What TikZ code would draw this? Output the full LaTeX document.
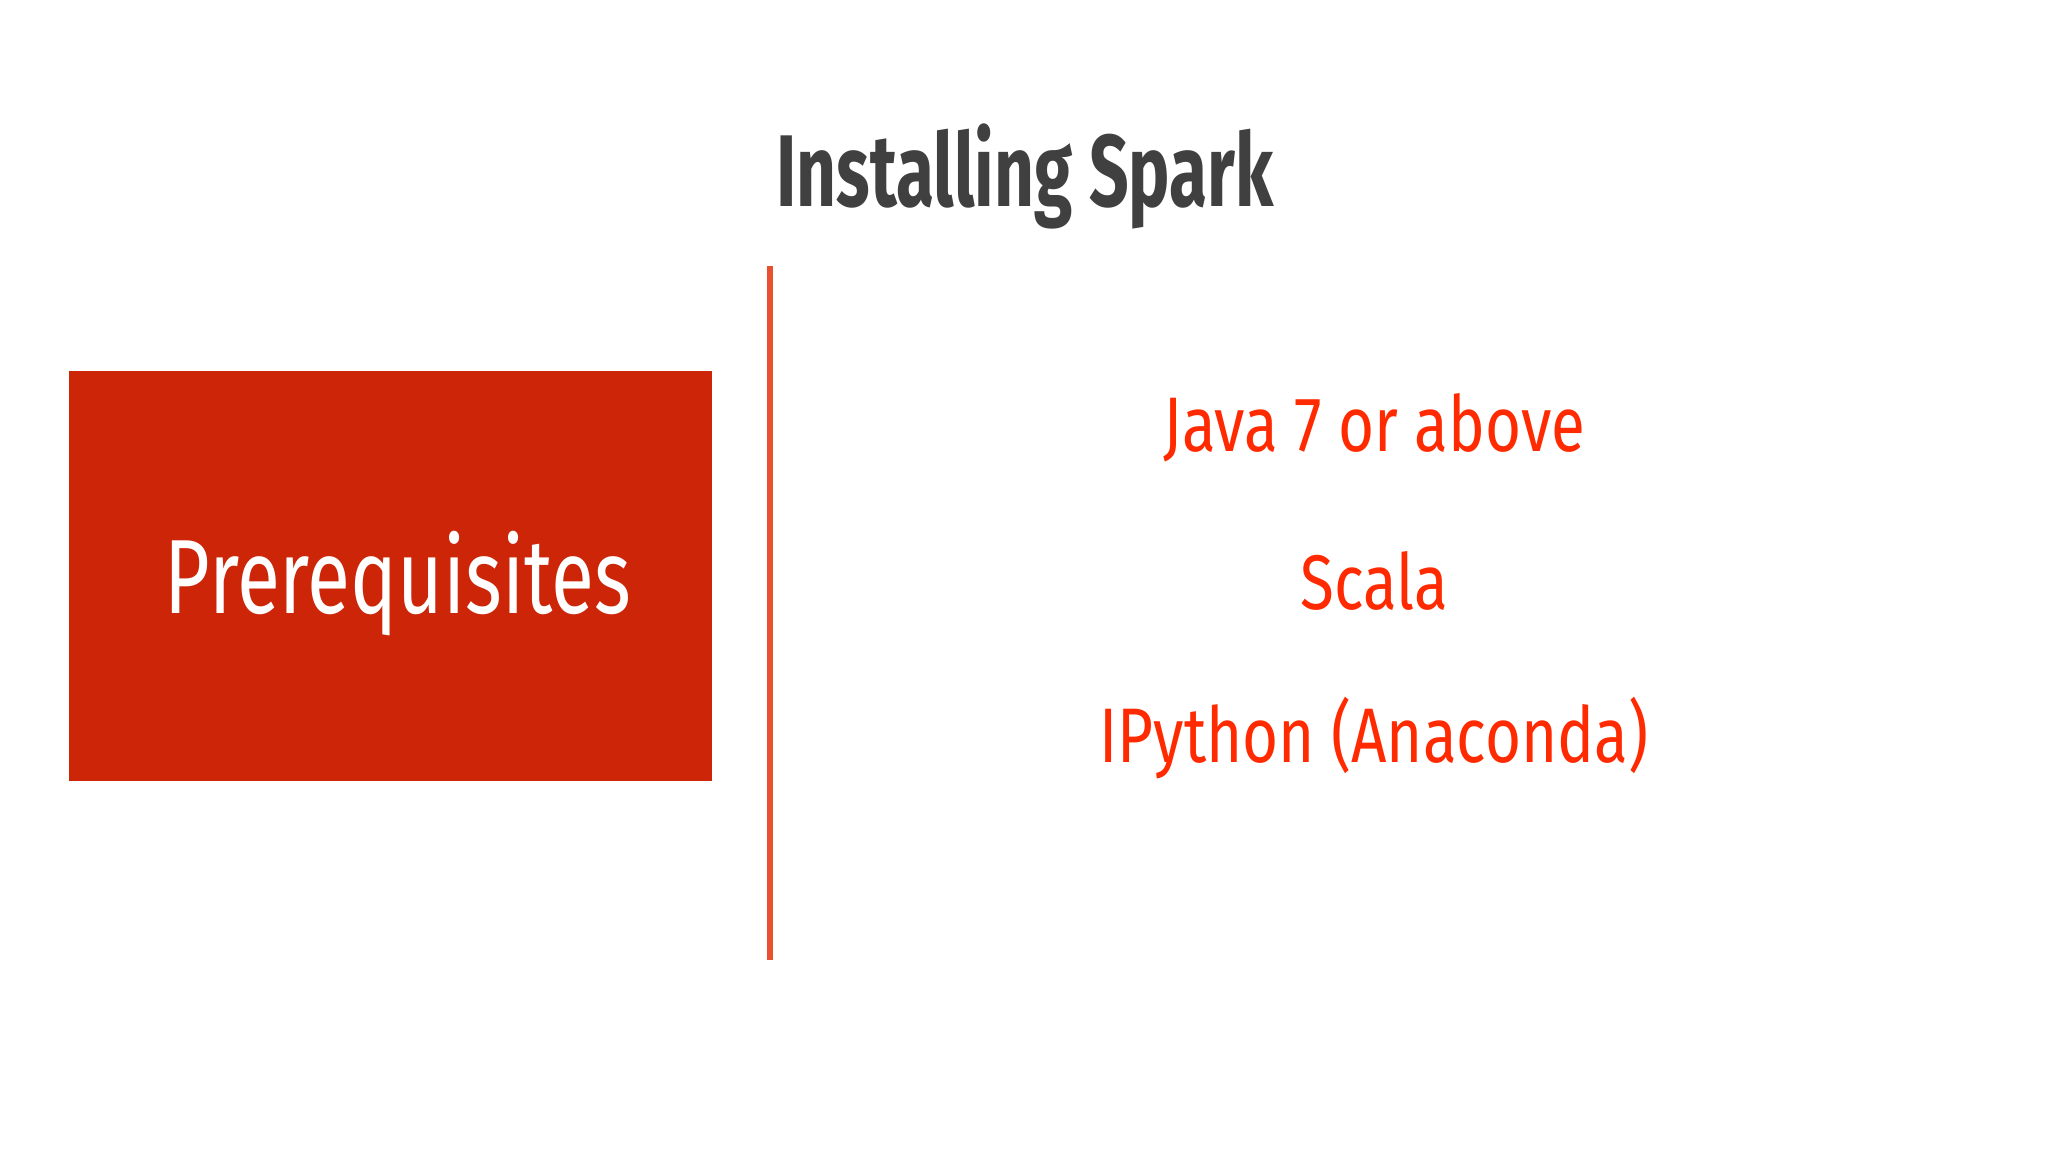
\documentclass[tikz,border=0pt]{standalone}
\usepackage{fontspec}
\usepackage{graphicx}
\setmainfont{Fira Sans}
\definecolor{boxred}{HTML}{CC2508}
\definecolor{linered}{HTML}{E8502F}
\definecolor{itemred}{HTML}{FF2A00}
\definecolor{titlegray}{HTML}{404040}
\tikzset{item/.style={text=itemred,font=\fontsize{22}{26}\selectfont}}
\begin{document}
\begin{tikzpicture}[x=0.01cm,y=-0.01cm]
\useasboundingbox[fill=white] (0,0) rectangle (2048,1152);
\node[text=titlegray,font=\fontsize{29}{36}\selectfont\bfseries] (title) at (1025,176) {\scalebox{0.68}[1]{Installing Spark}};
\node[fill=boxred,minimum width=6.43cm,minimum height=4.10cm,inner sep=0pt] (box) at (390.5,576) {};
\node[text=white,font=\fontsize{30}{36}\selectfont] (pre) at (398,584) {\scalebox{0.745}[1]{Prerequisites}};
\coordinate (ltop) at (770,266);
\coordinate (lbot) at (770,960);
\draw[linered,line width=1.5pt] (ltop) -- (lbot);
\node[item] (java) at (1374,428) {\scalebox{0.8}[1]{Java 7 or above}};
\node[item] (scala) at (1374,581) {\scalebox{0.8}[1]{Scala}};
\node[item] (ipy) at (1374,738) {\scalebox{0.8}[1]{IPython (Anaconda)}};
\end{tikzpicture}
\end{document}
